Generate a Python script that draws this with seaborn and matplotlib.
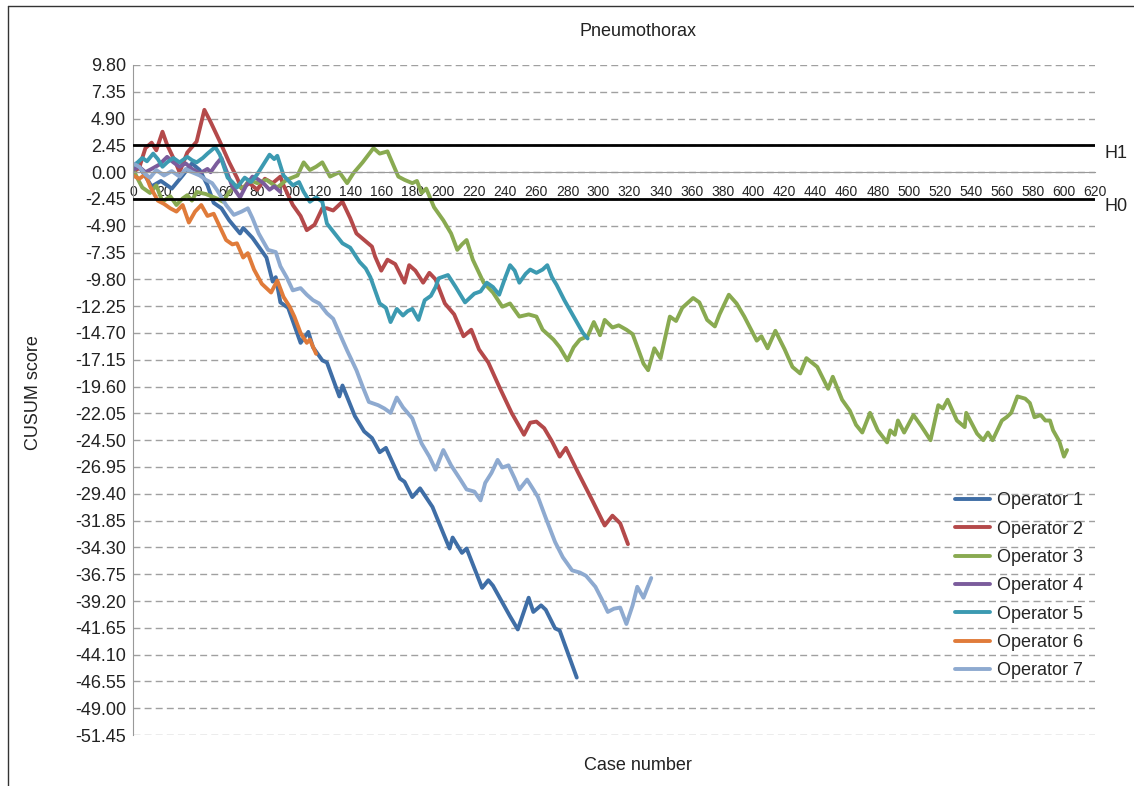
import numpy as np
import matplotlib
matplotlib.use('Agg')
import matplotlib.pyplot as plt
from matplotlib.lines import Line2D
import pandas as pd
import seaborn as sns

# CUSUM curves as (case number, CUSUM score)
op1 = [(0,0.5),(5,0.3),(12,-1.3),(18,-0.8),(25,-1.5),(32,-0.3),(38,0.8),(43,0.2),(48,-1.2),(52,-2.8),
       (57,-3.3),(62,-4.4),(69,-5.6),(71,-5.1),(77,-6.0),(81,-6.8),(86,-7.8),(90,-10.0),(92,-9.6),(95,-11.9),
       (100,-12.4),(108,-15.6),(113,-14.6),(116,-16.0),(122,-17.2),(125,-17.4),(133,-20.5),(135,-19.5),
       (143,-22.3),(149,-23.7),(154,-24.3),(159,-25.6),(163,-25.2),(172,-28.0),(175,-28.3),(180,-29.7),
       (185,-28.9),(193,-30.6),(204,-34.4),(206,-33.4),(212,-34.8),(215,-34.4),(225,-38.0),(229,-37.3),
       (232,-37.8),(243,-40.6),(248,-41.8),(255,-38.9),(258,-40.2),(263,-39.6),(266,-40.0),(272,-41.7),
       (275,-41.9),(286,-46.2)]
op2 = [(0,0.0),(4,0.4),(8,2.2),(12,2.7),(15,2.0),(19,3.7),(22,2.5),(28,0.7),(30,0.0),(35,1.8),(41,2.8),
       (46,5.7),(50,4.6),(56,2.8),(62,0.9),(67,-0.5),(70,-1.5),(75,-1.0),(80,-1.6),(85,-0.6),(90,-1.0),
       (95,-0.4),(97,-1.2),(103,-3.0),(108,-4.0),(112,-5.3),(117,-4.8),(122,-3.3),(125,-3.3),(129,-3.5),
       (135,-2.7),(140,-4.2),(144,-5.6),(149,-6.2),(154,-6.8),(156,-7.7),(160,-9.0),(164,-8.0),(169,-8.4),
       (175,-10.1),(178,-8.5),(182,-9.0),(187,-10.1),(191,-9.2),(195,-9.8),(201,-12.0),(207,-13.0),
       (213,-15.0),(218,-14.4),(223,-16.2),(229,-17.4),(236,-19.6),(244,-22.0),(252,-24.0),(256,-22.9),
       (260,-22.8),(265,-23.4),(270,-24.6),(275,-26.0),(279,-25.2),(287,-27.5),(296,-30.0),(304,-32.3),
       (309,-31.4),(314,-32.1),(319,-34.0)]
op3 = [(0,0.3),(3,-0.6),(6,-1.4),(11,-1.9),(15,-1.2),(19,-2.7),(24,-2.2),(28,-3.0),(32,-2.4),(35,-2.1),
       (38,-2.6),(41,-1.8),(47,-2.0),(54,-2.4),(58,-2.7),(62,-1.8),(67,-1.2),(71,-1.5),(75,-0.7),(80,-1.0),
       (86,-0.7),(93,-1.4),(99,-0.7),(106,-0.3),(110,0.9),(114,0.2),(118,0.5),(122,0.9),(127,-0.4),
       (133,0.0),(138,-1.0),(142,-0.1),(148,0.9),(155,2.2),(159,1.7),(164,1.9),(171,-0.4),(175,-0.7),
       (180,-1.0),(183,-0.8),(186,-1.9),(189,-1.5),(194,-3.2),(200,-4.4),(205,-5.6),(209,-7.1),(212,-6.6),
       (215,-6.2),(219,-8.0),(226,-10.1),(232,-11.0),(238,-12.3),(243,-12.0),(249,-13.2),(255,-13.0),
       (260,-13.2),(264,-14.4),(271,-15.3),(275,-16.0),(280,-17.2),(284,-16.0),(288,-15.3),(293,-15.0),
       (297,-13.7),(301,-14.9),(304,-13.5),(309,-14.2),(313,-14.0),(318,-14.4),(322,-14.8),(329,-17.5),
       (332,-18.1),(336,-16.1),(340,-17.0),(346,-13.2),(350,-13.6),(354,-12.4),(361,-11.5),(365,-11.9),
       (370,-13.5),(375,-14.1),(378,-13.0),(384,-11.2),(389,-12.0),(394,-13.2),(402,-15.4),(405,-15.0),
       (409,-16.1),(414,-14.5),(420,-16.2),(425,-17.8),(430,-18.4),(434,-17.0),(441,-17.8),(448,-19.8),
       (451,-18.7),(457,-20.8),(462,-21.8),(466,-23.1),(470,-23.8),(475,-22.0),(480,-23.6),(486,-24.7),
       (488,-23.6),(491,-24.0),(493,-22.7),(497,-23.8),(503,-22.2),(508,-23.2),(514,-24.5),(519,-21.3),
       (522,-21.6),(525,-20.8),(531,-22.7),(536,-23.3),(537,-22.0),(544,-23.9),(548,-24.5),(551,-23.8),
       (554,-24.5),(560,-22.7),(563,-22.4),(566,-22.0),(570,-20.5),(575,-20.7),(578,-21.1),(581,-22.4),
       (585,-22.2),(588,-22.7),(591,-22.7),(593,-23.6),(597,-24.6),(600,-26.0),(602,-25.4)]
op4 = [(0,0.2),(4,0.5),(8,0.0),(12,0.3),(17,0.7),(22,1.4),(26,0.9),(30,0.5),(34,0.8),(38,0.3),(43,-0.1),
       (48,0.3),(50,0.0),(54,0.8),(57,1.3),(60,0.2),(64,-1.3),(69,-2.3),(73,-1.2),(77,-0.4),(80,-0.6),
       (84,-1.0),(88,-1.6),(91,-1.3),(95,-1.8)]
op5 = [(0,0.6),(3,0.9),(6,1.3),(9,1.0),(13,1.7),(16,1.2),(19,0.5),(22,0.9),(26,1.3),(30,0.9),(35,1.4),
       (38,1.1),(41,0.9),(45,1.3),(48,1.7),(53,2.3),(56,1.6),(61,-0.5),(64,-0.9),(67,-1.4),(72,-0.5),
       (76,-0.9),(80,-0.2),(84,0.7),(88,1.6),(91,1.2),(93,1.5),(97,-0.3),(103,-1.2),(107,-0.9),(110,-1.8),
       (114,-2.7),(118,-2.3),(122,-2.7),(125,-4.7),(130,-5.6),(135,-6.5),(140,-6.9),(146,-8.2),(150,-8.8),
       (153,-9.6),(159,-12.0),(163,-12.4),(166,-13.7),(170,-12.5),(174,-13.1),(177,-12.7),(180,-12.5),
       (184,-13.5),(188,-11.7),(192,-11.3),(195,-10.5),(197,-9.7),(203,-9.4),(208,-10.5),(214,-11.9),
       (220,-11.1),(224,-10.9),(228,-10.1),(232,-10.5),(236,-11.2),(240,-9.6),(243,-8.5),(246,-9.0),
       (249,-10.1),(253,-9.3),(256,-8.9),(260,-9.2),(264,-8.9),(267,-8.5),(270,-9.6),(273,-10.3),
       (278,-11.7),(284,-13.2),(290,-14.7),(293,-15.2)]
op6 = [(0,-0.3),(4,-0.6),(8,-0.2),(11,-1.3),(16,-2.6),(20,-2.9),(24,-3.3),(28,-3.6),(32,-3.0),(36,-4.6),
       (40,-3.6),(44,-3.0),(48,-4.0),(52,-3.8),(56,-5.0),(60,-6.2),(64,-6.6),(67,-6.5),(71,-7.8),(74,-7.4),
       (78,-8.9),(83,-10.2),(89,-11.0),(93,-9.9),(97,-11.4),(101,-12.3),(104,-13.2),(108,-14.7),
       (112,-15.6),(114,-15.3),(118,-16.6)]
op7 = [(0,0.8),(4,0.5),(8,-0.2),(11,-0.5),(15,0.2),(20,-0.3),(25,0.1),(30,-0.4),(34,0.3),(38,0.0),
       (43,-0.3),(47,-0.7),(51,-1.0),(54,-1.6),(60,-3.0),(65,-3.9),(70,-3.6),(74,-3.3),(77,-4.2),(81,-5.6),
       (87,-7.1),(92,-7.3),(95,-8.6),(99,-9.6),(103,-10.8),(108,-10.6),(112,-11.2),(116,-11.7),(120,-12.0),
       (125,-12.9),(129,-13.4),(133,-14.7),(138,-16.3),(144,-18.1),(148,-19.6),(152,-21.0),(158,-21.3),
       (162,-21.6),(166,-22.0),(170,-20.6),(174,-21.5),(180,-22.5),(186,-24.8),(191,-26.0),(195,-27.2),
       (200,-25.4),(205,-26.8),(211,-28.1),(215,-29.0),(220,-29.2),(224,-30.0),(227,-28.4),(231,-27.5),
       (235,-26.3),(238,-27.0),(242,-26.8),(246,-28.0),(249,-29.0),(254,-28.1),(258,-29.0),(261,-29.7),
       (266,-31.6),(272,-33.8),(277,-35.2),(283,-36.4),(288,-36.6),(292,-36.9),(298,-37.9),(302,-39.0),
       (306,-40.2),(310,-39.9),(314,-39.8),(318,-41.3),(322,-39.6),(325,-37.9),(329,-38.9),(334,-37.1)]

operators = ['Operator 1','Operator 2','Operator 3','Operator 4','Operator 5','Operator 6','Operator 7']
colors = ['#3f6ea6','#b4494a','#89aa51','#7b5c9c','#3c9ab1','#e07b3a','#8eaad0']
y_ticks = [9.80 - 2.45*i for i in range(26)]
h1 = 2.45
h0 = -2.45

# long table for seaborn
rows = []
for name, pts in zip(operators, [op1, op2, op3, op4, op5, op6, op7]):
    for c, s in pts:
        rows.append((name, c, s))
df = pd.DataFrame(rows, columns=['operator', 'case', 'score'])

sns.set_style('white')
plt.rcParams['font.family'] = ['Liberation Sans', 'DejaVu Sans']

fig = plt.figure(figsize=(11.34, 7.86), dpi=100)
ax = fig.add_axes([133/1134, 1-735/786, 962/1134, 670/786])

ax.yaxis.grid(True, linestyle=(0, (5, 3)), color='#a0a0a0', linewidth=1)
ax.set_axisbelow(True)

sns.lineplot(data=df, x='case', y='score', hue='operator', palette=dict(zip(operators, colors)),
             estimator=None, sort=False, linewidth=2.8, ax=ax)

# threshold lines
ax.axhline(h1, color='black', linewidth=2, zorder=5)
ax.axhline(h0, color='black', linewidth=2, zorder=5)
ax.text(626, h1-0.7, 'H1', fontsize=13, va='center', ha='left', color='#222222', clip_on=False)
ax.text(626, h0-0.7, 'H0', fontsize=13, va='center', ha='left', color='#222222', clip_on=False)

ax.set_xlim(0, 620)
ax.set_ylim(-51.45, 9.80)
ax.set_yticks(y_ticks)
ax.set_yticklabels(['%.2f' % v for v in y_ticks], fontsize=13, color='#222222')
ax.set_xticks(np.arange(0, 621, 20))
ax.set_xticks(np.arange(10, 620, 20), minor=True)
ax.set_xticklabels([str(v) for v in range(0, 621, 20)], fontsize=9.5, color='#222222')
ax.tick_params(axis='y', length=3, color='#999999', pad=2)
ax.tick_params(axis='x', which='major', direction='out', length=6, color='#999999', pad=3)
ax.tick_params(axis='x', which='minor', direction='in', length=3, color='#999999')

for side in ['top', 'right']:
    ax.spines[side].set_visible(False)
ax.spines['bottom'].set_position(('data', 0))
ax.spines['bottom'].set_color('#999999')
ax.spines['left'].set_color('#999999')
ax.set_xlabel('')
ax.set_ylabel('')

handles, labels = ax.get_legend_handles_labels()
ax.legend(handles, labels, loc='upper left', bbox_to_anchor=(0.8545, 0.3625), frameon=False,
          fontsize=13, handlelength=1.95, handletextpad=0.35, labelspacing=0.63,
          borderpad=0, borderaxespad=0)

fig.text(638/1134, 1-32/786, 'Pneumothorax', fontsize=13, ha='center', va='center', color='#222222')
fig.text(638/1134, 1-765/786, 'Case number', fontsize=13, ha='center', va='center', color='#222222')
fig.text(33/1134, 0.5, 'CUSUM score', fontsize=13, ha='center', va='center', rotation=90, color='#222222')

# frame around the picture (left and top edge)
fig.add_artist(Line2D([8/1134, 8/1134], [0, 1-6/786], color='#333333', linewidth=1))
fig.add_artist(Line2D([8/1134, 1], [1-6/786, 1-6/786], color='#333333', linewidth=1))

fig.savefig('out.png', dpi=100)
